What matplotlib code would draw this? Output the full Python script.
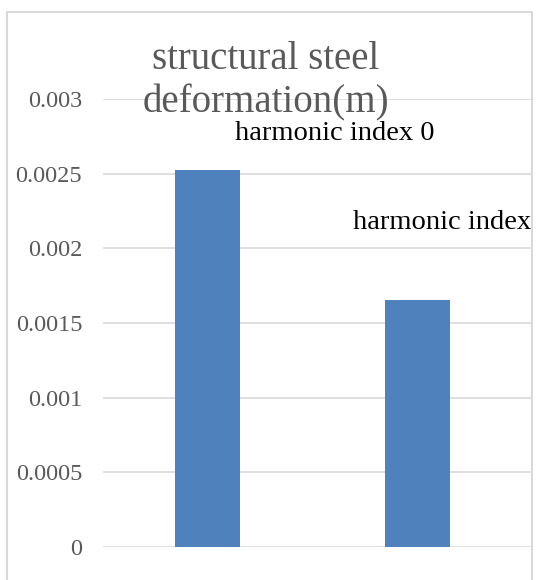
import matplotlib
matplotlib.use("Agg")
import matplotlib.pyplot as plt
from matplotlib.patches import Rectangle

categories = ["harmonic index 0", "harmonic index 1"]
values = [0.002527, 0.001655]
yticks = [0, 0.0005, 0.001, 0.0015, 0.002, 0.0025, 0.003]
ytick_labels = ["0", "0.0005", "0.001", "0.0015", "0.002", "0.0025", "0.003"]
title_lines = ["structural steel", "deformation(m)"]

W, H = 537, 580
fig = plt.figure(figsize=(W / 100, H / 100), dpi=100)
serif = ["Liberation Serif", "DejaVu Serif"]

# chart border
fig.patches.append(Rectangle((7.5 / W, -0.1), (532 - 7.5) / W, 1.1 - 12 / H,
                             transform=fig.transFigure, fill=False,
                             edgecolor="#d9d9d9", linewidth=1.5))

ax = fig.add_axes([103 / W, 33 / H, (532 - 103) / W, (547 - 99) / H])
x = list(range(len(categories)))
ax.bar(x, values, width=0.31, color="#4f81bd", zorder=3)
ax.set_xlim(-0.5, -0.5 + (532 - 103) / 209.7)
ax.set_ylim(0, 0.003)
ax.set_yticks(yticks)
ax.set_yticklabels(ytick_labels, fontfamily=serif, fontsize=17.5, color="#595959")
ax.set_xticks([])
ax.tick_params(axis="y", length=0, pad=15)
ax.grid(axis="y", color="#d9d9d9", linewidth=1.2, zorder=0)
for s in ax.spines.values():
    s.set_visible(False)
ax.set_facecolor("none")

# series labels
ax.text(0.606, 0.00277, categories[0], ha="center", va="center",
        fontfamily=serif, fontsize=20.5, color="black", clip_on=True)
ax.text(0.691, 0.002174, categories[1], ha="left", va="center",
        fontfamily=serif, fontsize=20.5, color="black", clip_on=True)

for line, base in zip(title_lines, [69, 112]):
    fig.text(266 / W, 1 - base / H, line, ha="center", va="baseline",
             fontfamily=serif, fontsize=28, color="#595959")

fig.savefig("out.png", dpi=100)
